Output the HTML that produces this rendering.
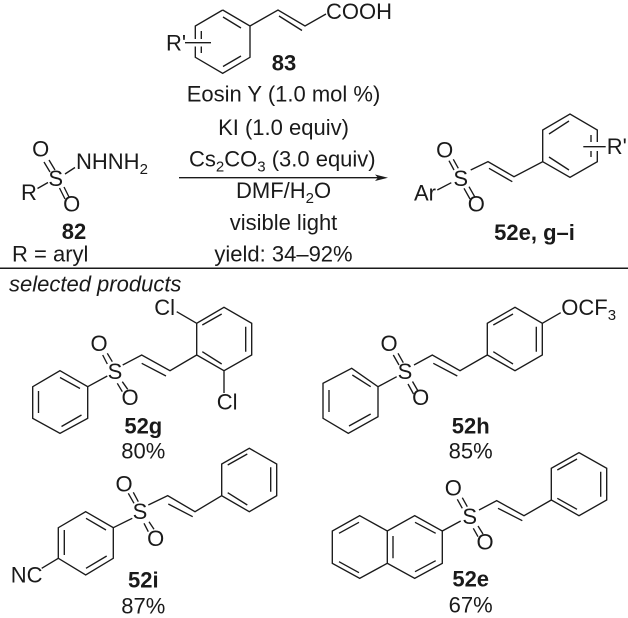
<!DOCTYPE html>
<html><head><meta charset="utf-8"><style>
html,body{margin:0;padding:0;background:#fff;width:628px;height:618px;overflow:hidden}
svg{display:block}
text{font-family:"Liberation Sans",sans-serif;font-size:22px;fill:#1a1a1a}
.b{font-weight:bold}.m{text-anchor:middle}.i{font-style:italic}
.s{font-size:15px}
path{fill:none;stroke:#1a1a1a;stroke-width:1.35;stroke-linejoin:miter}
</style></head><body>
<svg width="628" height="618" viewBox="0 0 628 618" xmlns="http://www.w3.org/2000/svg">
<!-- 83 -->
<path d="M222.7 10L250 26V57.3L222.7 73.3L195.3 57.3V46.5M195.3 39V26L222.7 10M250 26L278 10L305 26L326 14"/>
<path d="M223 17L241 28M241 56L223 66.5M201.3 31V39M201.3 46.5V53M279 16L302 30.5M185 42.7H211"/>
<text x="166" y="50.5">R'</text>
<text x="326" y="19">COOH</text>
<text class="b m" x="284" y="70.7">83</text>
<!-- conditions -->
<text class="m" x="283.5" y="101.7">Eosin Y (1.0 mol %)</text>
<text class="m" x="283.5" y="135">KI (1.0 equiv)</text>
<text x="189" y="166.7">Cs<tspan class="s" dy="5">2</tspan><tspan dy="-5">CO</tspan><tspan class="s" dy="5">3</tspan><tspan dy="-5"> (3.0 equiv)</tspan></text>
<text x="236" y="198">DMF/H<tspan class="s" dy="5">2</tspan><tspan dy="-5">O</tspan></text>
<text class="m" x="283.5" y="230">visible light</text>
<text class="m" x="283.5" y="261.7">yield: 34–92%</text>
<path d="M179 177.7H380"/>
<polygon points="388,177.7 375,174.5 378,177.7 375,181" fill="#1a1a1a"/>
<!-- 82 -->
<text class="m" x="40.7" y="156.7">O</text>
<text x="76" y="169">NHNH<tspan class="s" dy="5">2</tspan></text>
<text class="m" x="55.7" y="186">S</text>
<text x="21" y="200">R</text>
<text class="m" x="71.7" y="211.7">O</text>
<path d="M37.5 188.5L48 182.5M65 174L75 167.5M44 162L50 172M49 160L55 170M59.5 188L65 199M64 187L69 197"/>
<text class="b m" x="74" y="239">82</text>
<text x="12" y="261.7">R = aryl</text>
<!-- general product -->
<path d="M437.3 190L451.3 182.7M449 160.7L454 170M453.3 159.3L458.3 168.3M464 188.3L470 199M469 186.7L474.7 196.7"/>
<path d="M470.7 170L488 161.7L514 176.7L542.7 161.7V130L570 114L597.3 130V142M597.3 151V161.7L570 177.3L542.7 161.7"/>
<path d="M489 168.3L512.3 181.7M549 134L569 121M549 157L569 170M591 135V142M591 151V157M583.3 146.7H605.7"/>
<text x="414" y="200.7">Ar</text>
<text class="m" x="460.7" y="186">S</text>
<text class="m" x="444.7" y="157.3">O</text>
<text class="m" x="476.3" y="211.7">O</text>
<text x="606.7" y="154">R'</text>
<text class="b m" x="534.5" y="240">52e, g–i</text>
<!-- rule -->
<path d="M0 268.2H628" style="stroke-width:1.5"/>
<text class="i" x="9" y="291.7">selected products</text>
<!-- 52g -->
<path d="M60 370.7L87.7 386.7V418.3L60 433.3L32.7 418.3V386.7ZM38.5 391V413M60 377.5L80 388.5M61.5 426.5L81.5 415"/>
<path d="M87.7 386.7L107.3 376M122.7 365L141.7 355L170 370.7L196.7 355M141.7 363.3L166 376M102.7 355L107.3 364M107.3 353.3L112.3 361.7M117.3 383.3L122.3 391.7M122.3 381.7L127.7 389.3"/>
<path d="M196.7 355V323.3L224 307.3L251.7 323.3V355L224 370.7ZM202.3 325L221.7 314M245.7 326.7V351.7M202.3 351.7L221.7 364M176.7 311.7L196.7 323.3M224 370.7V393"/>
<text x="154.3" y="315">Cl</text>
<text x="216.7" y="409.3">Cl</text>
<text class="m" x="115" y="379">S</text>
<text class="m" x="99" y="351">O</text>
<text class="m" x="130" y="405">O</text>
<text class="b m" x="143.3" y="433.3">52g</text>
<text class="m" x="143.3" y="458.3">80%</text>
<!-- 52h -->
<path d="M351.7 368.3L378 386.7V416.7L348.3 433.3L323 418.3V383.3ZM329 390V412M352.3 375L370.7 386.7M349 426L370.7 414"/>
<path d="M378 386.7L396.7 376.7M414 365L432.3 355L460 370.7L487.3 355M433.3 363.3L457.3 376M393.3 355L399 365M398 353.3L403.3 362.7M408 384L413.5 394M412.5 381.5L418 391"/>
<path d="M487.3 355V323.3L515 307.3L542.3 323.3V355L515 370.7ZM493.3 325L513 314M536.3 326.7V351.7M493.3 351.7L513 364M542.3 323.3L560.7 312.7"/>
<text class="m" x="405" y="379">S</text>
<text class="m" x="389" y="351">O</text>
<text class="m" x="420.7" y="405">O</text>
<text x="561.3" y="315">OCF<tspan class="s" dy="5">3</tspan></text>
<text class="b m" x="470.7" y="433.3">52h</text>
<text class="m" x="470.7" y="458.3">85%</text>
<!-- 52i -->
<path d="M85.7 511.7L113.3 527.7V558.3L85.7 575L58.3 558.3V527.7ZM64.3 530V555M86 518.3L106 530M86 568.3L106.7 556M58.3 558.3L41.7 568.3"/>
<path d="M113.3 527.7L132.3 518.3M148.3 505L167.7 495.7L195 511.7L221.7 495.7M168.3 504L192.7 516.7M128.3 493.3L134 503.3M133.3 492.3L138.3 501.7M144 523.3L148.3 531.7M149 521.7L154 529.3"/>
<path d="M221.7 495.7V464L249.3 448.3L276.7 464V495.7L249.3 511.7ZM227.7 465L247.3 454M270.7 467.3V491.7M227.7 492.7L247.3 505"/>
<text x="10.7" y="582.3">NC</text>
<text class="m" x="140" y="519">S</text>
<text class="m" x="124" y="491.7">O</text>
<text class="m" x="155.7" y="546">O</text>
<text class="b m" x="143.3" y="587.7">52i</text>
<text class="m" x="143.3" y="613.3">87%</text>
<!-- 52e -->
<path d="M359.7 515.7L387.3 531L414.7 515.7L442.3 531V563.3L414.7 578.3L387.3 563.3L359.7 578.3L332.3 563.3V531ZM387.3 531V563.3M339 533.3L359 522.3M339 561.7L359 572.7M393 536V558.3M415 522.3L435.7 533.3M415 571.7L435.7 560.7"/>
<path d="M442.3 531L460.7 521M479 510L496.7 500.7L524 515.7L551.3 500M498 508.3L522.3 520.7M457.3 499.3L462.3 508.3M462.3 497.7L467.3 506.7M473.3 528.3L478 536.7M478 526L483 534"/>
<path d="M551.3 500V468.3L579 452.7L606.7 468.3V500L579 515.7ZM557.3 470L577 459M600.7 471.7V496.7M557.3 498.3L577 509.3"/>
<text class="m" x="469.7" y="524">S</text>
<text class="m" x="453.3" y="495.7">O</text>
<text class="m" x="485" y="549.3">O</text>
<text class="b m" x="470.7" y="586.7">52e</text>
<text class="m" x="470.7" y="612.3">67%</text>
</svg>
</body></html>
